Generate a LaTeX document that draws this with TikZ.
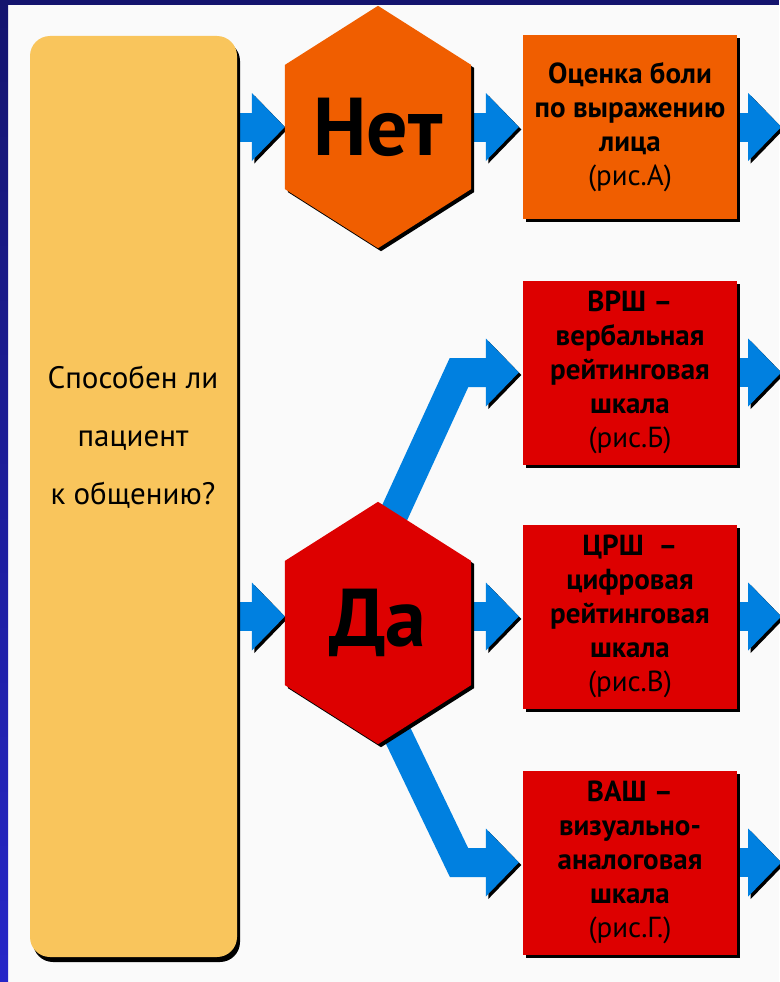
\documentclass[tikz,border=0pt]{standalone}
\usepackage{fontspec}
\setmainfont{PT Sans}
\usetikzlibrary{arrows.meta,calc,shadows}
\definecolor{framenavy}{RGB}{20,20,110}
\definecolor{frameblue}{RGB}{38,38,200}
\definecolor{paper}{RGB}{250,250,250}
\definecolor{askyellow}{RGB}{249,197,92}
\definecolor{noorange}{RGB}{240,94,0}
\definecolor{yesred}{RGB}{221,0,0}
\definecolor{pipeblue}{RGB}{0,128,224}
\pgfdeclarelayer{bg}
\pgfdeclarelayer{pipes}
\pgfdeclarelayer{hexes}
\pgfsetlayers{bg,pipes,hexes,main}

\begin{document}
\begin{tikzpicture}[x=1pt,y=-1pt,
  boxshadow/.style={drop shadow={shadow xshift=3pt,shadow yshift=-3pt,fill=black,opacity=1}},
  askbox/.style={rectangle,rounded corners=20pt,fill=askyellow,minimum width=207pt,minimum height=921pt,
    drop shadow={shadow xshift=3pt,shadow yshift=-5pt,fill=black,opacity=1}},
  asktext/.style={align=center,font=\fontsize{31}{58}\selectfont},
  card/.style={rectangle,minimum width=214pt,minimum height=184pt,inner sep=0pt,align=center,
    font=\fontsize{29}{34}\selectfont\bfseries,boxshadow},
  hexword/.style={rectangle,minimum width=186pt,minimum height=242pt,inner sep=0pt,
    font=\fontsize{82}{82}\selectfont\bfseries},
  pipe/.style={draw=pipeblue,line width=29pt,line join=miter,shorten >=4pt,
    -{Triangle[length=33pt,width=68pt,line width=0pt]},
    preaction={draw=black,transform canvas={xshift=2.5pt,yshift=-2.5pt}}}]
\useasboundingbox (0,0) rectangle (779,982);
\begin{pgfonlayer}{bg}
\fill[paper] (0,0) rectangle (779,982);
\shade[top color=framenavy,bottom color=frameblue] (0,0) rectangle (8,982);
\fill[framenavy] (0,0) rectangle (779,5);
\end{pgfonlayer}

% question
\node[askbox] (pat) at (133.5,496.5) {};
\node[asktext] (ask) at (133,437) {Способен ли\\пациент\\к общению?};

% answers
\node[hexword] (no) at (378,127) {Нет};
\node[hexword] (yes) at (378,623) {Да};
\begin{pgfonlayer}{hexes}
\foreach \h/\c in {no/noorange,yes/yesred}
  \fill[\c,boxshadow] (\h.north) -- ($(\h.north east)!0.244!(\h.south east)$)
    -- ($(\h.north east)!0.756!(\h.south east)$) -- (\h.south)
    -- ($(\h.north west)!0.756!(\h.south west)$) -- ($(\h.north west)!0.244!(\h.south west)$) -- cycle;
\end{pgfonlayer}

% scales
\node[card,fill=noorange] (pain) at (630,127) {Оценка боли\\по выражению\\лица\\\mdseries(рис.А)};
\node[card,fill=yesred] (vrs) at (630,372.5) {ВРШ –\\вербальная\\рейтинговая\\шкала\\\mdseries(рис.Б)};
\node[card,fill=yesred] (crs) at (630,616.5) {ЦРШ\ \ –\\цифровая\\рейтинговая\\шкала\\\mdseries(рис.В)};
\node[card,fill=yesred] (vas) at (630,862.5) {ВАШ –\\визуально-\\аналоговая\\шкала\\\mdseries(рис.Г.)};

\coordinate (fork) at ($(yes.center)+(-34,0)$);
\coordinate (upbend) at (459,372.5);
\coordinate (downbend) at (459,862.5);

\begin{pgfonlayer}{pipes}
\draw[pipe,shorten >=0pt] (pat.east |- no) -- (no.west);
\draw[pipe,shorten >=0pt] (pat.east |- crs) -- (yes.west |- crs);
\draw[pipe] (no.east) -- (pain.west);
\draw[pipe] (yes.east |- crs) -- (crs.west);
\draw[pipe] (fork) -- (upbend) -- (vrs.west);
\draw[pipe] (fork) -- (downbend) -- (vas.west);
\foreach \b in {pain,vrs,crs,vas}
  \draw[pipe] (\b.east) -- ++(48,0);
\end{pgfonlayer}
\end{tikzpicture}
\end{document}
